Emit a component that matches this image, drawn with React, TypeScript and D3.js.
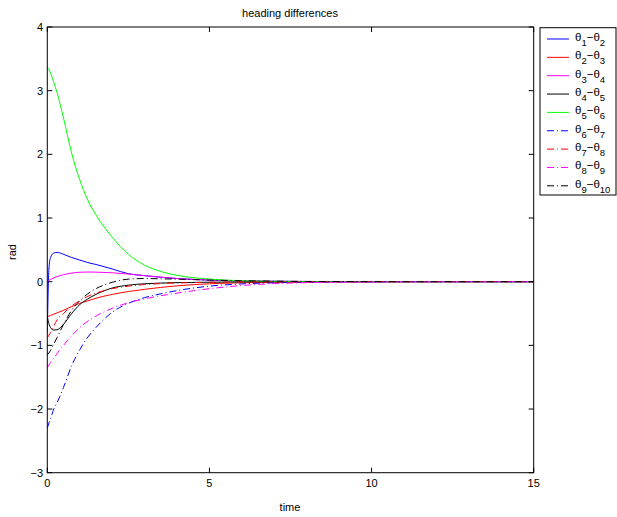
import React from "react";
import * as d3 from "d3";

const W = 617;
const H = 517;

const times = [0, 0.05, 0.1, 0.2, 0.3, 0.5, 0.75, 1, 1.25, 1.5, 2, 2.5, 3, 3.5, 4, 5, 6, 7, 8, 10, 12, 15];

const d12 = [-0.8, 0.2, 0.38, 0.45, 0.46, 0.43, 0.38, 0.34, 0.3, 0.27, 0.2, 0.125, 0.095, 0.07, 0.05, 0.025, 0.012, 0.006, 0.003, 0.001, 0, 0];
const d23 = [-0.55, -0.54, -0.53, -0.51, -0.49, -0.45, -0.39, -0.34, -0.3, -0.26, -0.2, -0.155, -0.12, -0.09, -0.065, -0.033, -0.017, -0.009, -0.005, -0.001, 0, 0];
const d34 = [0, 0.02, 0.035, 0.06, 0.08, 0.11, 0.135, 0.148, 0.152, 0.15, 0.14, 0.12, 0.095, 0.07, 0.05, 0.028, 0.014, 0.007, 0.003, 0.001, 0, 0];
const d45 = [-0.55, -0.66, -0.72, -0.76, -0.755, -0.67, -0.5, -0.36, -0.27, -0.2, -0.1, -0.055, -0.033, -0.022, -0.015, -0.008, -0.004, -0.002, -0.001, 0, 0, 0];
const d56 = [3.37, 3.33, 3.28, 3.13, 2.97, 2.57, 2.02, 1.6, 1.28, 1.05, 0.7, 0.43, 0.26, 0.16, 0.1, 0.04, 0.015, 0.006, 0.002, 0, 0, 0];
const d67 = [-2.3, -2.22, -2.15, -2.0, -1.9, -1.66, -1.32, -1.07, -0.87, -0.72, -0.48, -0.34, -0.25, -0.19, -0.14, -0.07, -0.035, -0.017, -0.008, -0.002, 0, 0];
const d78 = [-0.88, -0.84, -0.8, -0.7, -0.6, -0.5, -0.38, -0.3, -0.23, -0.18, -0.11, -0.07, -0.045, -0.03, -0.02, -0.01, -0.005, -0.002, -0.001, 0, 0, 0];
const d89 = [-1.35, -1.31, -1.27, -1.2, -1.13, -1.0, -0.85, -0.72, -0.62, -0.54, -0.42, -0.33, -0.27, -0.22, -0.18, -0.11, -0.06, -0.03, -0.015, -0.004, -0.001, 0];
const d910 = [-1.15, -1.12, -1.08, -0.98, -0.88, -0.67, -0.45, -0.3, -0.19, -0.11, -0.01, 0.04, 0.05, 0.045, 0.04, 0.025, 0.015, 0.008, 0.004, 0.001, 0, 0];

const seriesData = [d12, d23, d34, d45, d56, d67, d78, d89, d910];
const seriesColors = ["#0000ff", "#ff0000", "#ff00ff", "#000000", "#00ff00", "#0000ff", "#ff0000", "#ff00ff", "#000000"];
const seriesDashed = [false, false, false, false, false, true, true, true, true];
const legendSubs = [["1", "2"], ["2", "3"], ["3", "4"], ["4", "5"], ["5", "6"], ["6", "7"], ["7", "8"], ["8", "9"], ["9", "10"]];

const xTicks = [0, 5, 10, 15];
const yTicks = [-3, -2, -1, 0, 1, 2, 3, 4];

const FONT = "'Liberation Sans', Arial, Helvetica, sans-serif";

export default function App() {
  const left = 47.3, right = 533.7, top = 27, bottom = 472.7;
  const x = d3.scaleLinear().domain([0, 15]).range([left, right]);
  const y = d3.scaleLinear().domain([-3, 4]).range([bottom, top]);
  const line = d3
    .line<number>()
    .x((_, i) => x(times[i]))
    .y((v) => y(v))
    .curve(d3.curveMonotoneX);

  const tickLen = 5;
  const legX = 540, legY = 27.7, legW = 76, legH = 167.3;
  const rowY0 = 39, rowStep = 18.35;

  return (
    <svg
      width={W}
      height={H}
      style={{ position: "absolute", left: 0, top: 0, background: "#fff" }}
      fontFamily={FONT}
    >
      <rect x={0} y={0} width={W} height={H} fill="#fff" />
      <defs>
        <clipPath id="plotclip">
          <rect x={left} y={top} width={right - left} height={bottom - top} />
        </clipPath>
      </defs>
      <g clipPath="url(#plotclip)">
        {seriesData.map((d, i) => (
          <path
            key={i}
            d={line(d) || ""}
            fill="none"
            stroke={seriesColors[i]}
            strokeWidth={1}
            strokeDasharray={seriesDashed[i] ? "7,3,1,3" : undefined}
          />
        ))}
      </g>
      <rect x={left} y={top} width={right - left} height={bottom - top} fill="none" stroke="#000" strokeWidth={1} />
      {xTicks.map((t) => (
        <g key={"x" + t}>
          <line x1={x(t)} x2={x(t)} y1={bottom} y2={bottom - tickLen} stroke="#000" />
          <line x1={x(t)} x2={x(t)} y1={top} y2={top + tickLen} stroke="#000" />
          <text x={x(t)} y={487} fontSize={11} textAnchor="middle" fill="#000">
            {t}
          </text>
        </g>
      ))}
      {yTicks.map((t) => (
        <g key={"y" + t}>
          <line x1={left} x2={left + tickLen} y1={y(t)} y2={y(t)} stroke="#000" />
          <line x1={right} x2={right - tickLen} y1={y(t)} y2={y(t)} stroke="#000" />
          <text x={43} y={y(t) + 4} fontSize={11} textAnchor="end" fill="#000">
            {t < 0 ? "\u2212" + Math.abs(t) : String(t)}
          </text>
        </g>
      ))}
      <text x={290} y={17} fontSize={11} textAnchor="middle" fill="#000">
        heading differences
      </text>
      <text x={290} y={511} fontSize={11} textAnchor="middle" fill="#000">
        time
      </text>
      <text transform="translate(16,252) rotate(-90)" fontSize={11} textAnchor="middle" fill="#000">
        rad
      </text>
      <rect x={legX} y={legY} width={legW} height={legH} fill="#fff" stroke="#000" strokeWidth={1} />
      {legendSubs.map((s, i) => {
        const ry = rowY0 + i * rowStep;
        return (
          <g key={"l" + i}>
            <line
              x1={547}
              x2={569}
              y1={ry}
              y2={ry}
              stroke={seriesColors[i]}
              strokeWidth={1}
              strokeDasharray={seriesDashed[i] ? "7,3,1,3" : undefined}
            />
            <text x={575} y={ry + 2} fontSize={11.5} fill="#000">
              <tspan>θ</tspan>
              <tspan fontSize={9.5} dy={5}>{s[0]}</tspan>
              <tspan dy={-5}>−θ</tspan>
              <tspan fontSize={9.5} dy={5}>{s[1]}</tspan>
            </text>
          </g>
        );
      })}
    </svg>
  );
}
